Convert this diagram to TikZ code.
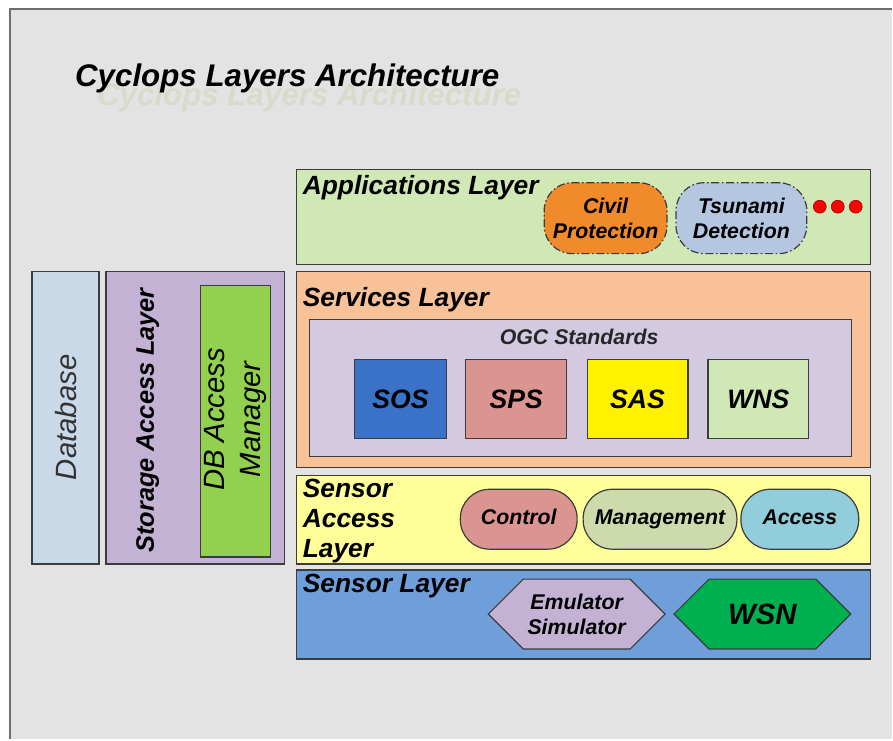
\documentclass[tikz,border=0pt]{standalone}
\usepackage{fontspec}
\setmainfont{Liberation Sans}
\usetikzlibrary{shapes.symbols}
\definecolor{bggray}{HTML}{E3E3E3}
\definecolor{framegray}{HTML}{6E6E6E}
\definecolor{edgegray}{HTML}{3C3C3C}
\definecolor{appgreen}{HTML}{CFE8B5}
\definecolor{servpeach}{HTML}{F9C197}
\definecolor{ogclilac}{HTML}{D3C9E0}
\definecolor{sosblue}{HTML}{3A72C8}
\definecolor{spsrose}{HTML}{DB9590}
\definecolor{saccyellow}{HTML}{FFFF99}
\definecolor{mgmtgreen}{HTML}{CDDBAC}
\definecolor{accblue}{HTML}{92CDDC}
\definecolor{sensblue}{HTML}{6F9FDB}
\definecolor{emulilac}{HTML}{C3B2D4}
\definecolor{wsngreen}{HTML}{00B050}
\definecolor{dbblue}{HTML}{C9D9E8}
\definecolor{dbamgreen}{HTML}{92D050}
\definecolor{civorange}{HTML}{F08A2A}
\definecolor{tsublue}{HTML}{B4C6E0}
\definecolor{ghost}{HTML}{DADACB}

\begin{document}
\begin{tikzpicture}[x=0.75pt,y=-0.75pt,
    layer/.style={draw=edgegray,line width=1.1pt},
    layerlbl/.style={font=\fontsize{19.8}{23}\selectfont\bfseries\itshape,anchor=base west,inner sep=0pt},
    boxlbl/.style={font=\fontsize{16}{18.5}\selectfont\bfseries\itshape,align=center,inner sep=0pt},
    pill/.style={boxlbl,draw=edgegray,line width=0.9pt,minimum height=45pt,rounded corners=22pt,text height=11.5pt,text depth=3.5pt},
    app/.style={boxlbl,draw=edgegray,line width=0.9pt,dash pattern=on 6pt off 2pt on 1.2pt off 2pt,minimum height=53.25pt,rounded corners=21pt},
    ogc/.style={draw=edgegray,line width=0.9pt,minimum height=59.25pt,minimum width=75.75pt,inner sep=0pt,font=\fontsize{20}{24}\selectfont\bfseries\itshape},
    hexa/.style={boxlbl,shape=signal,signal to=west and east,signal pointer angle=90,draw=edgegray,line width=0.9pt,minimum width=132.75pt,minimum height=52.5pt}]
    \fill[white] (0,0) rectangle (893,740);
    \fill[bggray] (10,9) rectangle (893,740);
    \draw[framegray,line width=2pt] (10,740) -- (10,9) -- (893,9);
    \node[ghost,font=\fontsize{23.5}{27}\selectfont\bfseries\itshape,anchor=base west,inner sep=0pt] (ghosttitle) at (97,106) {Cyclops Layers Architecture};
    \node[font=\fontsize{23.5}{27}\selectfont\bfseries\itshape,anchor=base west,inner sep=0pt] (title) at (75,87) {Cyclops Layers Architecture};

    \filldraw[layer,fill=appgreen] (297,170) rectangle (872,265);
    \node[layerlbl] (applbl) at (303,195) {Applications Layer};
    \node[app,fill=civorange,minimum width=92.25pt] (civil) at (606.5,218.5) {Civil\\Protection};
    \node[app,fill=tsublue,minimum width=98.25pt] (tsunami) at (742.5,218.5) {Tsunami\\Detection};
    \foreach \dx in {821,839,857}
        \filldraw[fill=red,draw=red!60!black,line width=0.4pt] (\dx,207) circle (6.5);

    \filldraw[layer,fill=servpeach] (297,272) rectangle (872,468);
    \node[layerlbl] (servlbl) at (303,307) {Services Layer};
    \filldraw[layer,fill=ogclilac] (310,320) rectangle (853,457);
    \node[boxlbl,font=\fontsize{16}{18}\selectfont\bfseries\itshape,text=black!85] (ogclbl) at (580,337) {OGC Standards};
    \node[ogc,fill=sosblue,minimum width=69pt] (sos) at (401,399.5) {SOS};
    \node[ogc,fill=spsrose] (sps) at (517,399.5) {SPS};
    \node[ogc,fill=yellow] (sas) at (638.5,399.5) {SAS};
    \node[ogc,fill=appgreen] (wns) at (759.5,399.5) {WNS};

    \filldraw[layer,fill=saccyellow] (297,476) rectangle (872,565);
    \node[layerlbl,anchor=north west,align=left,font=\fontsize{19.8}{22.2}\selectfont\bfseries\itshape] (sacclbl) at (303,480) {Sensor\\Access\\Layer};
    \node[pill,fill=spsrose,minimum width=87.75pt] (control) at (519.5,520) {Control};
    \node[pill,fill=mgmtgreen,minimum width=115.5pt] (mgmt) at (661,520) {Management};
    \node[pill,fill=accblue,minimum width=88.5pt] (access) at (801,520) {Access};

    \filldraw[layer,fill=sensblue] (297,571) rectangle (872,660);
    \node[layerlbl] (senslbl) at (303,593) {Sensor Layer};
    \node[hexa,fill=emulilac] (emul) at (577.5,615) {Emulator\\Simulator};
    \node[hexa,fill=wsngreen,font=\fontsize{22}{26}\selectfont\bfseries\itshape] (wsn) at (763.5,615) {WSN};

    \filldraw[layer,fill=dbblue] (32,272) rectangle (99,565);
    \node[rotate=90,inner sep=0pt,font=\fontsize{22}{26}\selectfont\itshape,text=black!80] (dblbl) at (66,418) {Database};
    \filldraw[layer,fill=emulilac] (106,272) rectangle (285,565);
    \node[rotate=90,inner sep=0pt,font=\fontsize{19}{22}\selectfont\bfseries\itshape] (storlbl) at (148,421) {Storage Access Layer};
    \filldraw[layer,fill=dbamgreen] (201,286) rectangle (271,558);
    \node[rotate=90,inner sep=0pt,align=center,font=\fontsize{22}{27}\selectfont\itshape] (dbamlbl) at (236,420) {DB Access\\Manager};
\end{tikzpicture}
\end{document}
